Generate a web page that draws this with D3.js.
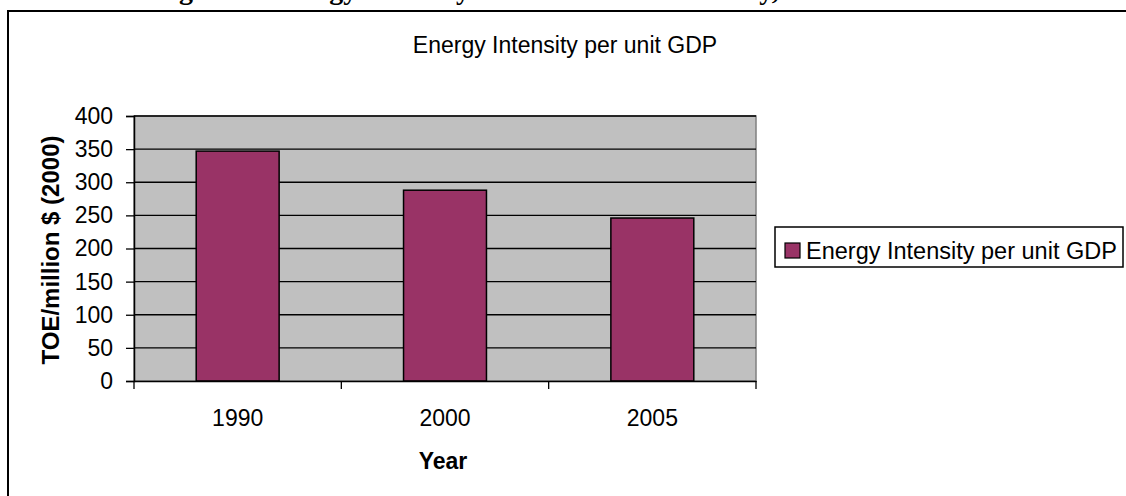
<!DOCTYPE html>
<html><head><meta charset="utf-8">
<script src="https://cdn.jsdelivr.net/npm/d3@7"></script>
<style>body{margin:0;background:#fff}svg{display:block}</style>
</head><body>
<svg id="c" width="1126" height="496"></svg>
<script>
const categories = ["1990", "2000", "2005"];
const values = [347, 288, 246];
const yTicks = [0, 50, 100, 150, 200, 250, 300, 350, 400];
const seriesName = "Energy Intensity per unit GDP";
const chartTitle = "Energy Intensity per unit GDP";
const xTitle = "Year";
const yTitle = "TOE/million $ (2000)";
const docTitle = "Figure 3: Energy Intensity of the National Economy, 1990-2005";

const svg = d3.select("#c");
const font = "Liberation Sans, Arial, sans-serif";

// document caption, cut off by the top edge as in the reference
svg.append("text").attr("x", 154).attr("y", -1)
  .attr("font-family", "Liberation Serif, Times New Roman, serif")
  .attr("font-weight", "bold").attr("font-size", 28).text(docTitle);

// outer frame
svg.append("rect").attr("x", 8).attr("y", 11).attr("width", 1130).attr("height", 500)
  .attr("fill", "none").attr("stroke", "#000").attr("stroke-width", 2);

const L = 134, R = 756, T = 116, B = 381;
const x = d3.scaleBand().domain(categories).range([L, R]).paddingInner(0.6).paddingOuter(0.3);
const xb = d3.scaleBand().domain(categories).range([L, R]);
const y = d3.scaleLinear().domain([0, 400]).range([B, T]);

svg.append("text").attr("x", 565).attr("y", 53).attr("text-anchor", "middle")
  .attr("font-family", font).attr("font-size", 23).text(chartTitle);

// plot area
svg.append("rect").attr("x", L).attr("y", T).attr("width", R - L).attr("height", B - T)
  .attr("fill", "#c0c0c0").attr("stroke", "#808080").attr("stroke-width", 1.5);

// gridlines
svg.append("g").selectAll("line").data(yTicks.filter(d => d > 0)).join("line")
  .attr("x1", L).attr("x2", R).attr("y1", d => y(d)).attr("y2", d => y(d))
  .attr("stroke", "#000").attr("stroke-width", 1.3);

// bars
svg.append("g").selectAll("rect").data(values).join("rect")
  .attr("x", (d, i) => x(categories[i])).attr("width", x.bandwidth())
  .attr("y", d => y(d)).attr("height", d => B - y(d))
  .attr("fill", "#993366").attr("stroke", "#000").attr("stroke-width", 1.5);

// y axis
const ya = svg.append("g").attr("transform", `translate(${L},0)`)
  .call(d3.axisLeft(y).tickValues(yTicks).tickSize(8).tickPadding(13));
ya.select(".domain").attr("stroke-width", 1.5);
ya.selectAll("line").attr("stroke-width", 1.3);
ya.selectAll("text").attr("font-family", font).attr("font-size", 23).attr("fill", "#000");

// x axis
const xa = svg.append("g").attr("transform", `translate(0,${B})`)
  .call(d3.axisBottom(xb).tickSize(0).tickPadding(29));
xa.select(".domain").attr("stroke-width", 1.5);
xa.selectAll("text").attr("font-family", font).attr("font-size", 23).attr("fill", "#000");
const bounds = categories.map(c => xb(c)).concat([R]);
svg.append("g").selectAll("line").data(bounds).join("line")
  .attr("x1", d => d).attr("x2", d => d).attr("y1", B).attr("y2", B + 8)
  .attr("stroke", "#000").attr("stroke-width", 1.3);

svg.append("text").attr("x", 443).attr("y", 469).attr("text-anchor", "middle")
  .attr("font-family", font).attr("font-weight", "bold").attr("font-size", 23).text(xTitle);

svg.append("text").attr("transform", "translate(59,250) rotate(-90)").attr("text-anchor", "middle")
  .attr("font-family", font).attr("font-weight", "bold").attr("font-size", 24).text(yTitle);

// legend
const lg = svg.append("g");
lg.append("rect").attr("x", 775).attr("y", 227).attr("width", 348).attr("height", 40)
  .attr("fill", "#fff").attr("stroke", "#000").attr("stroke-width", 1.5);
lg.append("rect").attr("x", 785).attr("y", 243).attr("width", 15).attr("height", 15)
  .attr("fill", "#993366").attr("stroke", "#000").attr("stroke-width", 1.2);
lg.append("text").attr("x", 806).attr("y", 259).attr("font-family", font).attr("font-size", 23.5).text(seriesName);
</script>
</body></html>
